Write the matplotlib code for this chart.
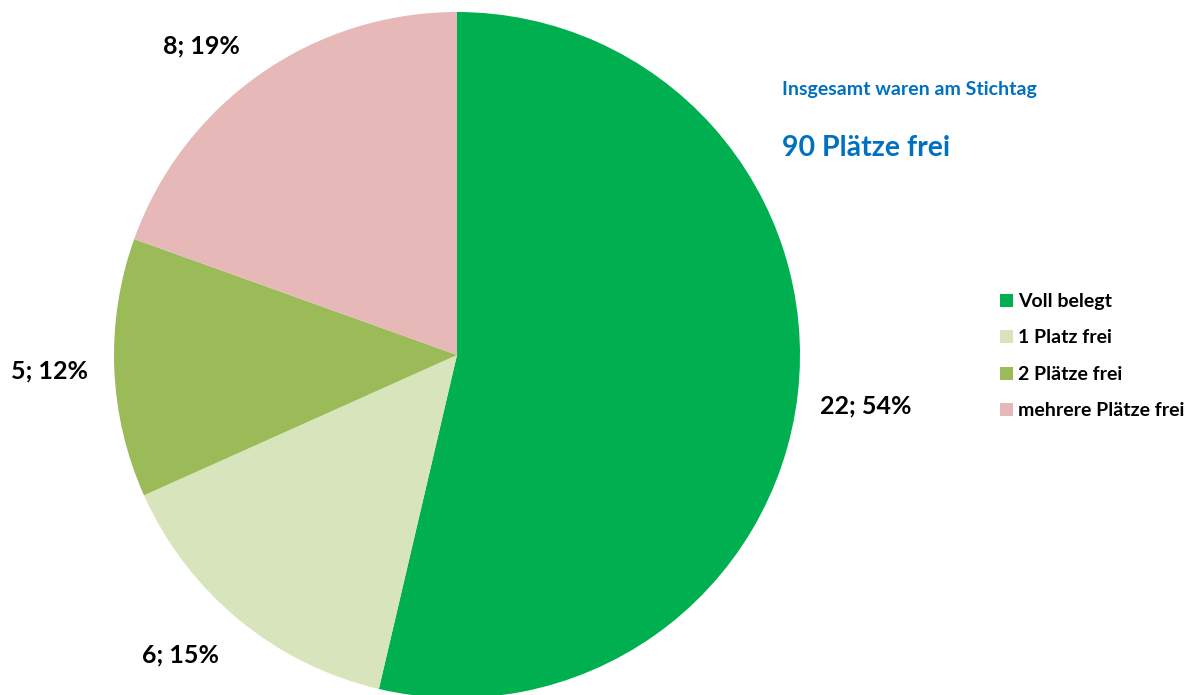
import numpy as np
import matplotlib.pyplot as plt

plt.rcParams['font.family'] = ['Lato', 'DejaVu Sans']
plt.rcParams['font.weight'] = 'bold'

# data
categories = ['Voll belegt', '1 Platz frei', '2 Plätze frei', 'mehrere Plätze frei']
counts = [22, 6, 5, 8]
percents = [54, 15, 12, 19]
colors = ['#00B050', '#D8E4BC', '#9BBB59', '#E6B8B7']
labels = [f'{c}; {p}%' for c, p in zip(counts, percents)]

# label placement (distance in radii, angle shift in degrees)
label_dist = [1.2, 1.19, 1.19, 1.17]
label_shift = [-0.5, -3.2, 0.0, 4.5]

W, H = 1197, 695
cx, cy, R = 457, H - 355, 343
fig = plt.figure(figsize=(W / 100, H / 100), dpi=100, facecolor='white')
ax = fig.add_axes([0, 0, 1, 1])

wedges, _ = ax.pie(counts, colors=colors, startangle=90,
                   counterclock=False, center=(cx, cy), radius=R)
for w, lab, d, s in zip(wedges, labels, label_dist, label_shift):
    a = np.deg2rad((w.theta1 + w.theta2) / 2 + s)
    ax.text(cx + d * R * np.cos(a), cy + d * R * np.sin(a), lab,
            ha='center', va='center', fontsize=18, fontweight='bold', color='black')

ax.set_aspect('auto')
ax.set_xlim(0, W)
ax.set_ylim(0, H)
ax.set_axis_off()

fig.text(782 / W, 1 - 90 / H, 'Insgesamt waren am Stichtag', color='#0070C0',
         fontsize=14, fontweight='bold', va='center', ha='left')
fig.text(782 / W, 1 - 148 / H, '90 Plätze frei', color='#0070C0',
         fontsize=20.5, fontweight='bold', va='center', ha='left')

leg = ax.legend(wedges, categories, loc='upper left', bbox_to_anchor=(1000 / W, 1 - 293 / H),
                bbox_transform=fig.transFigure, frameon=False, fontsize=14,
                handlelength=0.65, handleheight=0.65, handletextpad=0.3,
                labelspacing=1.0, borderpad=0, borderaxespad=0)

fig.savefig('out.png', dpi=100, facecolor='white')
